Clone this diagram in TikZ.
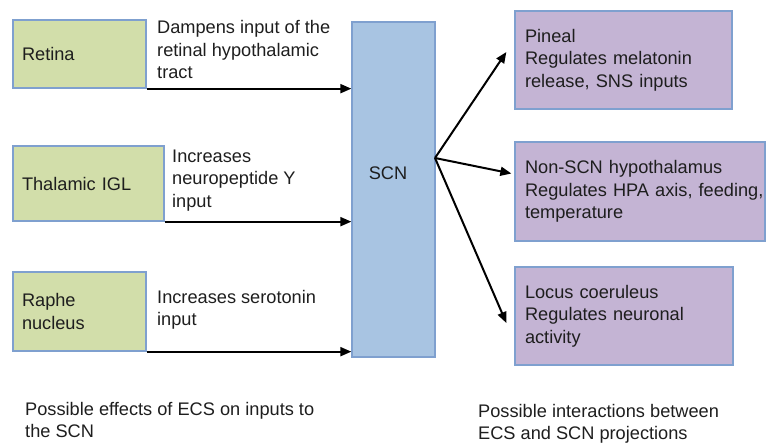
\documentclass[tikz,border=0pt]{standalone}
\usepackage{fontspec}
\setmainfont{Liberation Sans}
\usetikzlibrary{arrows.meta,shadows}
\definecolor{inbox}{HTML}{D2DEAA}
\definecolor{scnbox}{HTML}{A8C4E2}
\definecolor{outbox}{HTML}{C4B4D4}
\definecolor{edge}{HTML}{7FA0CF}
\definecolor{ink}{HTML}{1E1E1E}
% keep words whole inside the boxes
\hyphenpenalty=10000
\exhyphenpenalty=10000
\hbadness=10000
\hfuzz=30pt
\begin{document}
\begin{tikzpicture}[x=1pt,y=-1pt,
  font=\fontsize{18.2}{22.3}\selectfont, text=ink,
  panel/.style={draw=edge, line width=1.3pt, inner ysep=0pt,
    drop shadow={shadow xshift=1pt, shadow yshift=-1.2pt, fill=black, opacity=0.2}},
  source/.style={panel, fill=inbox, align=left, inner xsep=9pt},
  target/.style={panel, fill=outbox, align=left, inner xsep=10pt},
  note/.style={align=left, anchor=west, inner sep=0pt},
  link/.style={line width=2pt, -{Triangle[length=11pt,width=9pt]}}]
\useasboundingbox (0,0) rectangle (767,445);

% input regions
\node[source, minimum width=133pt, minimum height=68pt, text width=115pt] (retina) at (79.5,54) {Retina};
\node[source, minimum width=151pt, minimum height=75pt, text width=133pt] (igl) at (88.5,183.5) {Thalamic IGL};
\node[source, minimum width=133pt, minimum height=79pt, text width=115pt] (raphe) at (79.5,311.5) {Raphe\\nucleus};

% suprachiasmatic nucleus
\node[panel, fill=scnbox, minimum width=83pt, minimum height=335pt] (scn) at (393.5,189.5) {};
\node[inner sep=0pt] (scntext) at (388,173) {SCN};

% projection targets
\node[target, minimum width=217pt, minimum height=98pt, text width=197pt] (pineal) at (623.5,60)
  {Pineal\\Regulates melatonin\\release, SNS inputs};
\node[target, minimum width=250pt, minimum height=99pt, text width=230pt] (hypo) at (640,191.5)
  {Non-SCN hypothalamus\\\mbox{Regulates HPA axis, feeding,}\\temperature};
\node[target, minimum width=218pt, minimum height=98pt, text width=198pt] (locus) at (624,316)
  {Locus coeruleus\\Regulates neuronal\\activity};

% effect labels on the inputs
\node[note] (l1) at (157,49.5) {Dampens input of the\\retinal hypothalamic\\tract};
\node[note] (l2) at (172,180.5) {Increases\\neuropeptide Y\\input};
\node[note] (l3) at (157,309.5) {Increases serotonin\\input};

% captions
\node[note] (c1) at (25,420) {Possible effects of ECS on inputs to\\the SCN};
\node[note] (c2) at (478,424) {Possible interactions between\\ECS and SCN projections};

% input connectors
\draw[link] (retina.south east) -- (retina.south east -| scn.west);
\draw[link] (igl.south east) -- (igl.south east -| scn.west);
\draw[link] (raphe.south east) -- (raphe.south east -| scn.west);

% output connectors
\coordinate (hub) at (435,158);
\draw[link] (hub) -- ([xshift=-8pt,yshift=8pt]pineal.west);
\draw[link] (hub) -- ([xshift=-3pt,yshift=18pt]hypo.west);
\draw[link] (hub) -- ([xshift=-8pt,yshift=-7pt]locus.west);
\end{tikzpicture}
\end{document}
